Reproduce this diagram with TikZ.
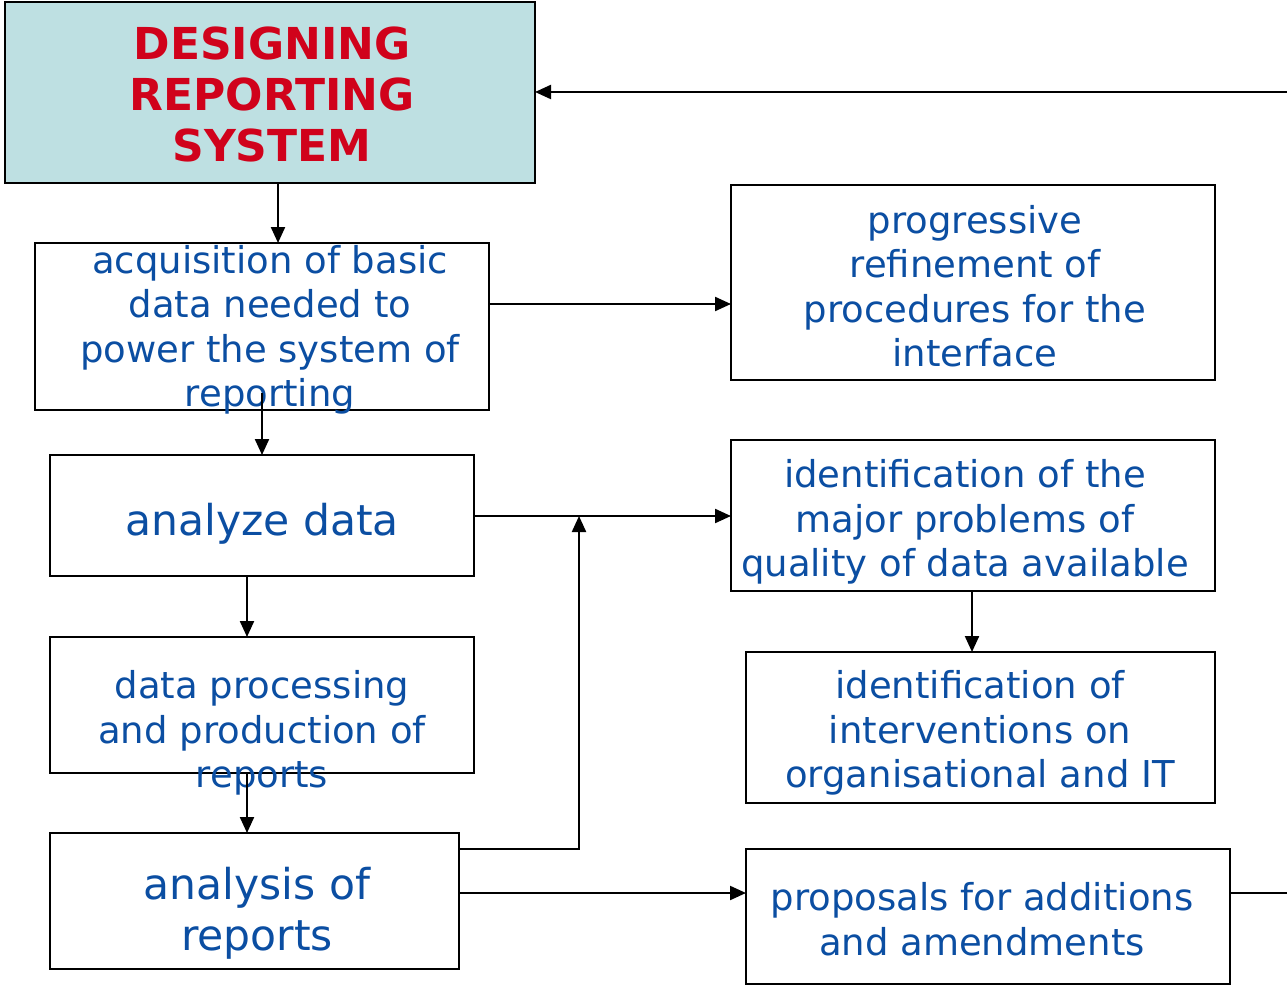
\documentclass[tikz,border=0pt]{standalone}
\usepackage{fontspec}
\setmainfont{DejaVu Sans}
\usetikzlibrary{arrows.meta}
\definecolor{txtblue}{HTML}{0B4EA2}
\definecolor{ttlred}{HTML}{D0021B}
\definecolor{ttlfill}{HTML}{BEE0E2}
\begin{document}
\begin{tikzpicture}[x=1pt,y=-1pt,
  boxtext/.style={text=txtblue,align=center,font=\fontsize{37}{44.5}\selectfont},
  bigtext/.style={text=txtblue,align=center,font=\fontsize{42.5}{51}\selectfont},
  frame/.style={draw=black,line width=2.2pt},
  conn/.style={draw=black,line width=2.2pt},
  arr/.style={conn,-{Triangle[length=16pt,width=14pt]}}]
\useasboundingbox (0,0) rectangle (1287,987);
% boxes
\draw[frame,fill=ttlfill] (5,2) rectangle (535,183);
\node[text=ttlred,align=center,font=\bfseries\fontsize{44}{51}\selectfont] (ttl) at (272,94) {DESIGNING\\REPORTING\\SYSTEM};
\coordinate (ttlB) at (278,183);
\coordinate (ttlR) at (535,92);
\coordinate (rin) at (1287,92);

\draw[frame] (35,243) rectangle (489,410);
\node[boxtext] (acq) at (270,330) {acquisition of basic\\data needed to\\power the system of\\reporting};

\draw[frame] (731,185) rectangle (1215,380);
\node[boxtext] (prog) at (975,286) {progressive\\refinement of\\procedures for the\\interface};

\draw[frame] (50,455) rectangle (474,576);
\node[bigtext] (ana) at (262,524) {analyze data};

\draw[frame] (731,440) rectangle (1215,591);
\node[boxtext] (prob) at (965,522) {identification of the\\major problems of\\quality of data available};

\draw[frame] (50,637) rectangle (474,773);
\node[boxtext] (proc) at (262,733) {data processing\\and production of\\reports};

\draw[frame] (746,652) rectangle (1215,803);
\node[boxtext] (intv) at (980,733) {identification of\\interventions on\\organisational and IT};

\draw[frame] (50,833) rectangle (459,969);
\node[bigtext] (rep) at (257,913) {analysis of\\reports};

\draw[frame] (746,849) rectangle (1230,984);
\node[boxtext] (prop) at (982,919) {proposals for additions\\and amendments};
\coordinate (pout) at (1287,893);

% connectors
\draw[arr] (ttlB) -- (278,243);
\draw[arr] (489,304) -- (731,304);
\draw[arr] (262,393) -- (262,455);
\draw[arr] (474,516) -- (731,516);
\draw[arr] (247,576) -- (247,637);
\draw[arr] (247,773) -- (247,833);
\draw[arr] (459,849) -- (579,849) -- (579,516);
\draw[arr] (459,893) -- (746,893);
\draw[arr] (972,591) -- (972,652);
\draw[conn] (1230,893) -- (pout);
\draw[arr] (rin) -- (ttlR);
\end{tikzpicture}
\end{document}
